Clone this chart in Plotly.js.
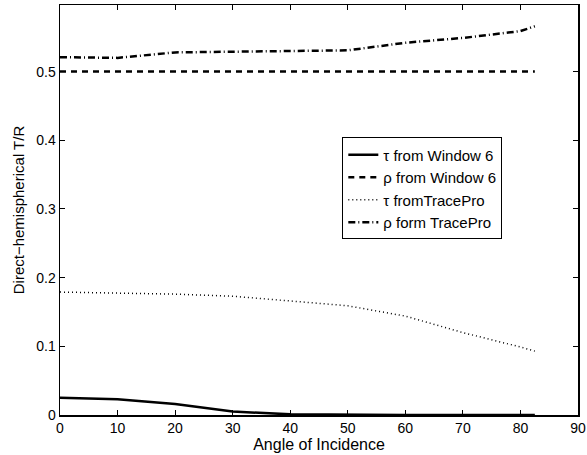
<!DOCTYPE html>
<html>
<head>
<meta charset="utf-8">
<script src="https://cdn.plot.ly/plotly-3.0.1.min.js"></script>
<style>html,body{margin:0;padding:0;background:#fff;}#chart{width:587px;height:455px;}</style>
</head>
<body>
<div id="chart"></div>
<script>
const angles = [0, 10, 20, 30, 40, 50, 60, 70, 80, 82.5];
const tauWindow6 = [0.025, 0.023, 0.016, 0.005, 0.001, 0, 0, 0, 0, 0];
const rhoWindow6 = [0.5, 0.5, 0.5, 0.5, 0.5, 0.5, 0.5, 0.5, 0.5, 0.5];
const tauTracePro = [0.179, 0.178, 0.176, 0.173, 0.166, 0.159, 0.144, 0.12, 0.099, 0.093];
const rhoTracePro = [0.521, 0.520, 0.528, 0.529, 0.531, 0.531, 0.542, 0.549, 0.559, 0.566];
const seriesNames = ["τ from Window 6", "ρ from Window 6", "τ fromTracePro", "ρ form TracePro"];
const xTicks = [0, 10, 20, 30, 40, 50, 60, 70, 80, 90];
const yTicks = [0, 0.1, 0.2, 0.3, 0.4, 0.5];
const yTickText = ["0", "0.1", "0.2", "0.3", "0.4", "0.5"];

const font = "Liberation Sans, Arial, Helvetica, sans-serif";
const traces = [
  {x: angles, y: tauWindow6, name: seriesNames[0], mode: "lines", line: {color: "#000", width: 2.5, dash: "solid"}},
  {x: angles, y: rhoWindow6, name: seriesNames[1], mode: "lines", line: {color: "#000", width: 2.5, dash: "6px,5px"}},
  {x: angles, y: tauTracePro, name: seriesNames[2], mode: "lines", line: {color: "#000", width: 1.5, dash: "1px,3px"}},
  {x: angles, y: rhoTracePro, name: seriesNames[3], mode: "lines", line: {color: "#000", width: 2.5, dash: "7px,3px,1px,3px"}}
];
const axisCommon = {
  showline: true, linecolor: "#000", linewidth: 1.5, mirror: "ticks",
  ticks: "inside", ticklen: 5, tickwidth: 1, tickcolor: "#000",
  showgrid: false, zeroline: false,
  tickfont: {family: font, size: 14, color: "#000"}
};
const layout = {
  width: 587, height: 455,
  margin: {l: 60, r: 9, t: 5, b: 40},
  paper_bgcolor: "#fff", plot_bgcolor: "#fff",
  showlegend: true,
  legend: {
    x: 0.545, y: 0.677, xanchor: "left", yanchor: "top",
    bgcolor: "#fff", bordercolor: "#000", borderwidth: 1,
    font: {family: font, size: 15, color: "#000"},
    itemwidth: 30, tracegroupgap: 0
  },
  xaxis: Object.assign({}, axisCommon, {
    range: [0, 90], tickvals: xTicks, ticktext: xTicks.map(String),
    title: {text: "Angle of Incidence", font: {family: font, size: 16, color: "#000"}, standoff: 0}
  }),
  yaxis: Object.assign({}, axisCommon, {
    range: [0, 0.597], tickvals: yTicks, ticktext: yTickText,
    title: {text: "Direct−hemispherical T/R", font: {family: font, size: 15, color: "#000"}, standoff: 8}
  })
};
Plotly.newPlot("chart", traces, layout, {displayModeBar: false, staticPlot: true});
</script>
</body>
</html>
